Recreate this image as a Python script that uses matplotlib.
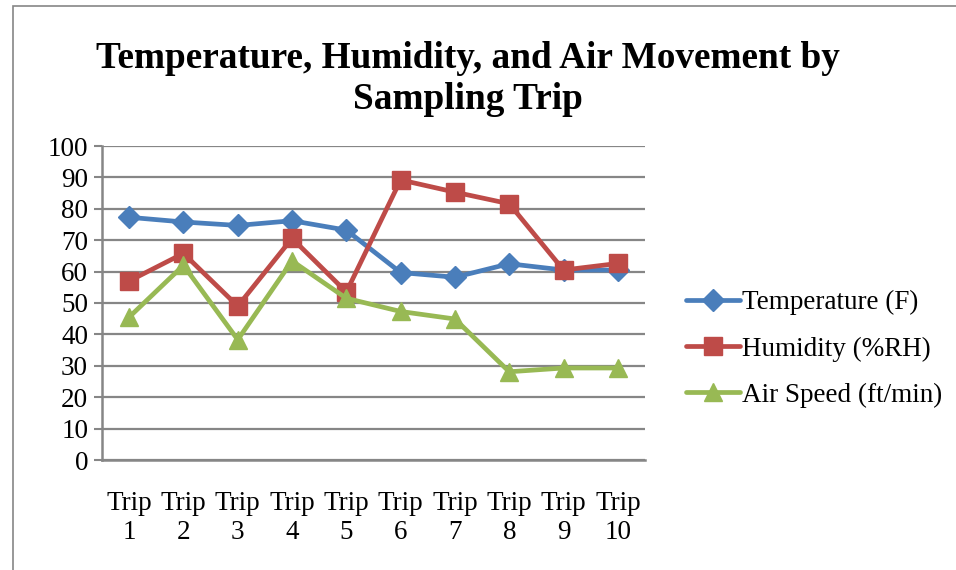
import matplotlib
matplotlib.use("Agg")
import matplotlib.pyplot as plt
from matplotlib.patches import Rectangle

trips = ["Trip\n1", "Trip\n2", "Trip\n3", "Trip\n4", "Trip\n5",
         "Trip\n6", "Trip\n7", "Trip\n8", "Trip\n9", "Trip\n10"]
temperature = [77.3, 75.8, 74.7, 76.2, 73.2, 59.7, 58.2, 62.5, 60.5, 60.5]
humidity = [57.0, 65.8, 49.0, 70.6, 53.5, 89.2, 85.3, 81.6, 60.5, 62.6]
air_speed = [45.5, 62.0, 38.3, 63.4, 51.5, 47.3, 44.9, 28.1, 29.3, 29.3]
y_ticks = list(range(0, 101, 10))

W, H = 956, 570
plt.rcParams['font.family'] = ['Liberation Serif', 'DejaVu Serif']
fig = plt.figure(figsize=(W / 100, H / 100), dpi=100)

# outer chart frame
fig.patches.append(Rectangle((13 / W, -0.1), 1.2, (H - 6) / H + 0.1,
                             transform=fig.transFigure, fill=False,
                             edgecolor="#868686", linewidth=1.2))

ax = fig.add_axes([102 / W, 1 - 460 / H, (645 - 102) / W, (460 - 146) / H])
x = list(range(len(trips)))
grid_c = "#868686"
fs = 19.5

series = [
    (temperature, "Temperature (F)", "#4A7EBB", "D", 11),
    (humidity, "Humidity (%RH)", "#BE4B48", "s", 12.5),
    (air_speed, "Air Speed (ft/min)", "#98B954", "^", 13),
]
for vals, name, col, mk, ms in series:
    ax.plot(x, vals, color=col, lw=3.4, marker=mk, markersize=ms,
            markeredgecolor=col, label=name, solid_capstyle="round", zorder=3)

ax.set_xlim(-0.5, len(trips) - 0.5)
ax.set_ylim(0, 100)
ax.set_yticks(y_ticks)
ax.set_xticks(x)
ax.set_xticklabels(trips, fontsize=fs, linespacing=1.22)
ax.tick_params(axis="x", length=0, pad=22)
ax.tick_params(axis="y", length=6, width=1.5, color=grid_c, labelsize=fs, pad=4)
ax.grid(axis="y", color=grid_c, lw=1.6)
ax.set_axisbelow(True)
for s in ["top", "right"]:
    ax.spines[s].set_visible(False)
for s in ["left", "bottom"]:
    ax.spines[s].set_color(grid_c)
    ax.spines[s].set_linewidth(1.8)

fig.text(0.489, 1 - 79 / H, "Temperature, Humidity, and Air Movement by\nSampling Trip",
         ha="center", va="center", fontsize=26.8, fontweight="bold", linespacing=1.2)

fig.legend(loc="center left", bbox_to_anchor=(686 / W, 1 - 349 / H), frameon=False,
           fontsize=fs, handlelength=2.0, handletextpad=0.05, labelspacing=0.78,
           borderaxespad=0, borderpad=0)

fig.savefig("out.png", dpi=100)
